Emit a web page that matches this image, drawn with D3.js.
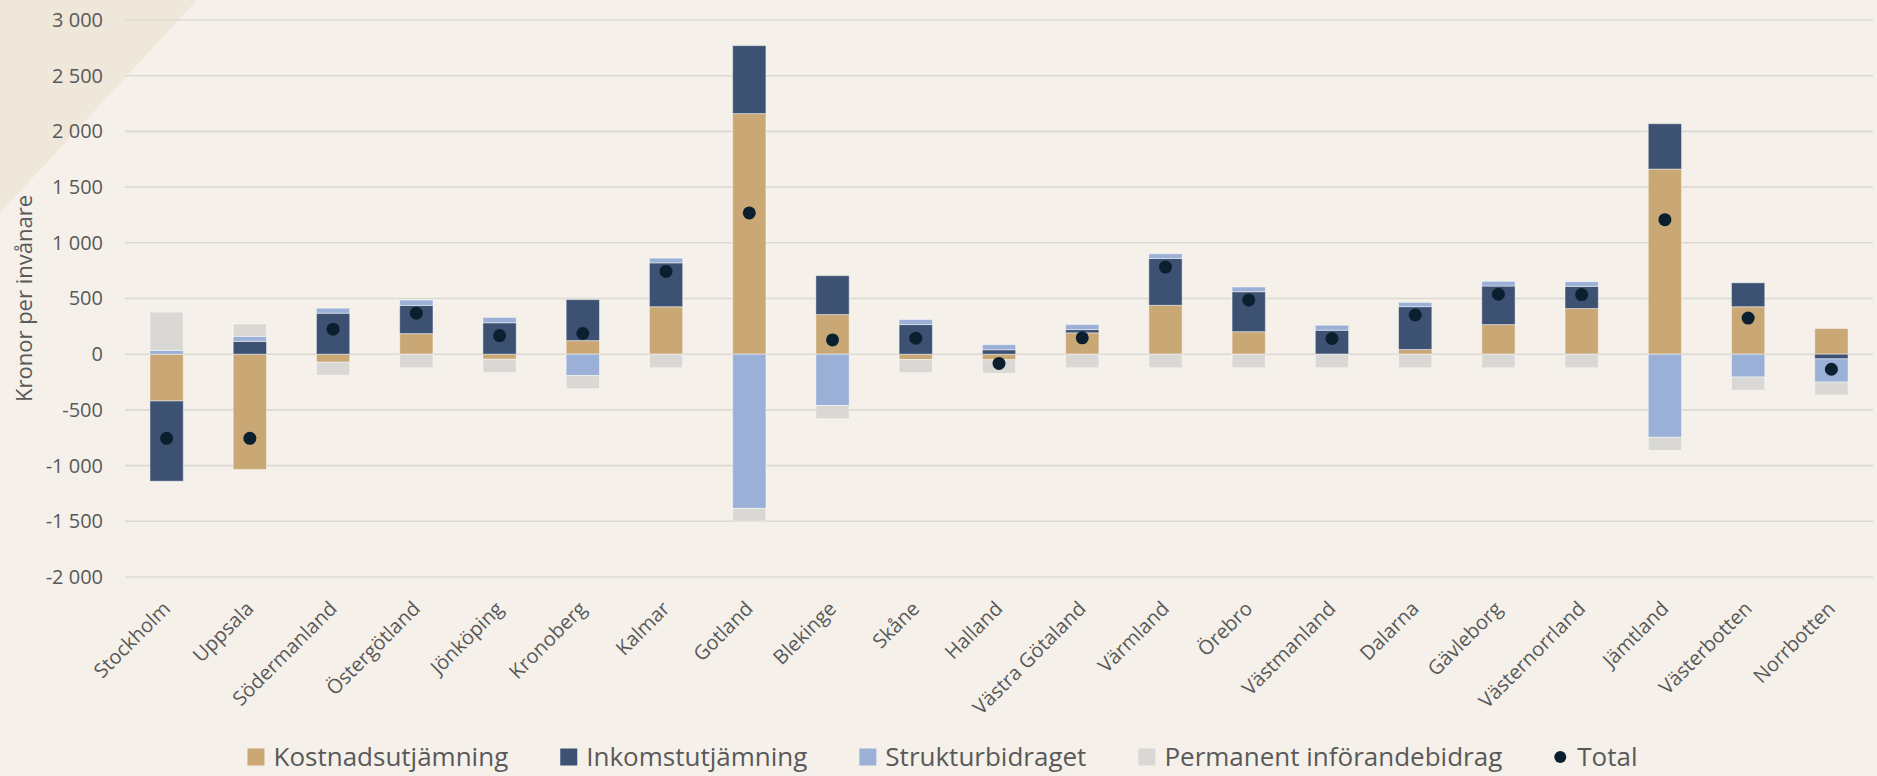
<!DOCTYPE html>
<html>
<head>
<meta charset="utf-8">
<script src="https://cdn.jsdelivr.net/npm/d3@7"></script>
<style>
  body { margin: 0; background: #f5f1ea; }
  svg { display: block; font-family: 'Open Sans', sans-serif; }
</style>
</head>
<body>
<div id="chart"></div>
<script>
// kronor per invånare, läst ur bilden
var categories = ['Stockholm', 'Uppsala', 'Södermanland', 'Östergötland', 'Jönköping', 'Kronoberg',
  'Kalmar', 'Gotland', 'Blekinge', 'Skåne', 'Halland', 'Västra Götaland', 'Värmland', 'Örebro',
  'Västmanland', 'Dalarna', 'Gävleborg', 'Västernorrland', 'Jämtland', 'Västerbotten', 'Norrbotten'];

var kostnad   = [-420, -1035, -72, 185, -45, 122, 426, 2160, 356, -48, -50, 192, 439, 202, 0, 42, 266, 410, 1662, 426, 231];
var inkomst   = [-720, 115, 368, 253, 282, 368, 394, 610, 349, 266, 40, 29, 420, 359, 215, 385, 346, 199, 407, 215, -42];
var struktur  = [34, 45, 45, 48, 48, -192, 42, -1384, -461, 45, 45, 45, 42, 42, 45, 38, 42, 42, -746, -205, -208];
var permanent = [344, 111, -117, -122, -120, -118, -122, -115, -119, -118, -122, -122, -122, -122, -122, -122, -122, -122, -118, -118, -118];
var total     = [-755, -755, 225, 368, 167, 186, 743, 1268, 128, 144, -83, 147, 782, 487, 141, 352, 538, 535, 1208, 324, -135];

var seriesNames = ['Kostnadsutjämning', 'Inkomstutjämning', 'Strukturbidraget', 'Permanent införandebidrag'];
var seriesColors = ['#c9a875', '#3d5273', '#9bb0d6', '#d9d8d5'];
var totalName = 'Total';
var totalColor = '#0b1f2e';

var yTicks = [-2000, -1500, -1000, -500, 0, 500, 1000, 1500, 2000, 2500, 3000];

var width = 1877, height = 776;
var margin = { top: 20, left: 125, right: 4, bottom: 199 };

var svg = d3.select('#chart').append('svg')
  .attr('width', width)
  .attr('height', height);

// ljusare bakgrund med mörkare hörn uppe till vänster
svg.append('rect')
  .attr('width', width).attr('height', height)
  .attr('fill', '#f5f1ea');
svg.append('path')
  .attr('d', 'M0,0 L197,0 L0,213 Z')
  .attr('fill', '#efe7da');

var x = d3.scaleBand()
  .domain(categories)
  .range([margin.left, width - margin.right])
  .paddingInner(0.6)
  .paddingOuter(0.3);

var y = d3.scaleLinear()
  .domain([-2000, 3000])
  .range([height - margin.bottom, margin.top]);

var locale = d3.formatLocale({ decimal: ',', thousands: '\u00a0', grouping: [3], currency: ['', ' kr'], minus: '-' });
var fmt = locale.format(',d');

// rutnät
svg.append('g')
  .selectAll('line')
  .data(yTicks)
  .enter().append('line')
  .attr('x1', margin.left)
  .attr('x2', width - margin.right)
  .attr('y1', (d) => y(d))
  .attr('y2', (d) => y(d))
  .attr('stroke', '#dcd9d4')
  .attr('stroke-width', 1.6);

// y-axel
var gy = svg.append('g')
  .attr('transform', 'translate(' + margin.left + ',0)')
  .call(d3.axisLeft(y).tickValues(yTicks).tickSize(0).tickPadding(22).tickFormat(fmt));
gy.select('.domain').remove();
gy.selectAll('text')
  .attr('fill', '#595959')
  .style('font-size', '20px')
  .style('font-family', "'Open Sans', sans-serif");

svg.append('text')
  .attr('transform', 'translate(32,' + ((y(3000) + y(-2000)) / 2) + ') rotate(-90)')
  .attr('text-anchor', 'middle')
  .attr('fill', '#595959')
  .style('font-size', '22px')
  .text('Kronor per invånare');

// staplar
var rows = categories.map(function(c, i) {
  return [kostnad[i], inkomst[i], struktur[i], permanent[i]];
});

var stack = d3.stack()
  .keys([0, 1, 2, 3])
  .offset(d3.stackOffsetDiverging);

var layers = stack(rows);

svg.append('g')
  .selectAll('g')
  .data(layers)
  .enter().append('g')
  .attr('fill', (d, i) => seriesColors[i])
  .selectAll('rect')
  .data((d) => d)
  .enter().append('rect')
  .attr('x', (d, i) => x(categories[i]))
  .attr('width', x.bandwidth())
  .attr('y', (d) => y(d[1]))
  .attr('height', (d) => y(d[0]) - y(d[1]))
  .attr('stroke', 'rgba(255,255,255,0.45)')
  .attr('stroke-width', 1);

// totalpunkter
svg.append('g')
  .selectAll('circle')
  .data(total)
  .enter().append('circle')
  .attr('cx', (d, i) => x(categories[i]) + x.bandwidth() / 2)
  .attr('cy', (d) => y(d))
  .attr('r', 6.5)
  .attr('fill', totalColor);

// x-axel, lutande etiketter
var gx = svg.append('g')
  .attr('transform', 'translate(0,605)')
  .call(d3.axisBottom(x).tickSize(0));
gx.select('.domain').remove();
gx.selectAll('text')
  .attr('x', 0)
  .attr('y', 0)
  .attr('dy', '0.35em')
  .attr('transform', 'translate(0,0) rotate(-45)')
  .attr('fill', '#595959')
  .style('text-anchor', 'end')
  .style('font-size', '20px')
  .style('font-family', "'Open Sans', sans-serif");

// legend
var legend = svg.append('g');
var legendItems = seriesNames.map((n, i) => ({ name: n, color: seriesColors[i], dot: false }))
  .concat([{ name: totalName, color: totalColor, dot: true }]);

var lx = 0;
legendItems.forEach(function(item, i) {
  var g = legend.append('g').attr('transform', 'translate(' + lx + ',0)');
  var textX;
  if (item.dot) {
    g.append('circle').attr('cx', 6).attr('cy', 0).attr('r', 6).attr('fill', item.color);
    textX = 23;
  } else {
    g.append('rect').attr('x', 0).attr('y', -8.5).attr('width', 17).attr('height', 17).attr('fill', item.color);
    textX = 26;
  }
  var t = g.append('text')
    .attr('x', textX)
    .attr('dy', '0.35em')
    .attr('fill', '#595959')
    .style('font-size', '26px')
    .text(item.name);
  lx += textX + t.node().getComputedTextLength() + 52;
});
lx -= 52;
legend.attr('transform', 'translate(' + ((width - lx) / 2 + 4) + ',757)');
</script>
</body>
</html>
